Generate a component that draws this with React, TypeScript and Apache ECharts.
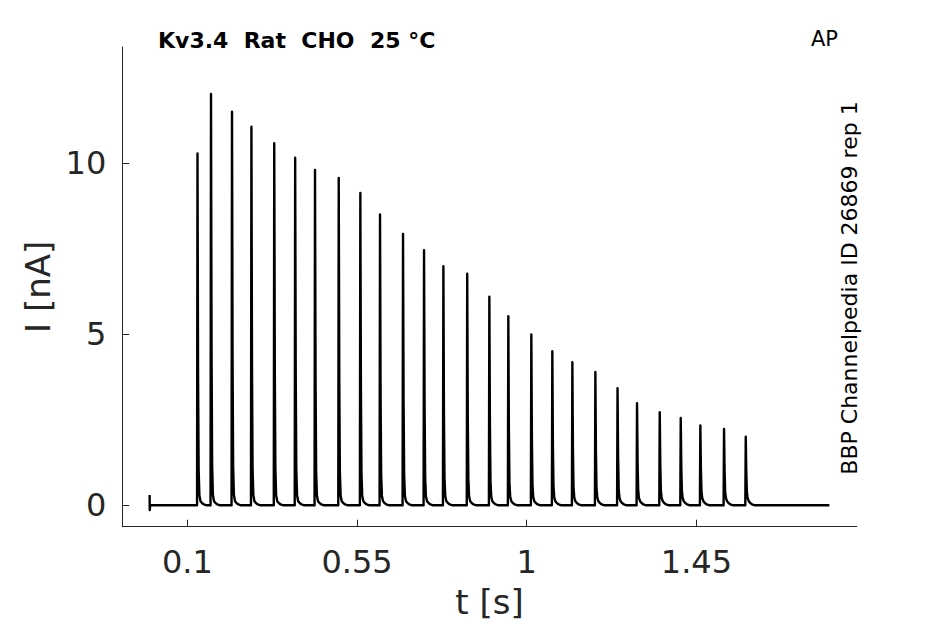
import React, { useEffect, useRef } from "react";
import * as echarts from "echarts";

// Spike (peak) times in seconds
const spikeTimes = [
  0.127, 0.1628, 0.2185, 0.27, 0.3305, 0.386, 0.4386, 0.5015, 0.5588, 0.611,
  0.672, 0.7277, 0.779, 0.8422, 0.9009, 0.9512, 1.0122, 1.0679, 1.121, 1.182,
  1.2408, 1.2925, 1.3527, 1.4084, 1.4604, 1.5232, 1.5808,
];
// Peak currents in nA
const spikePeaks = [
  10.27, 12.01, 11.49, 11.05, 10.57, 10.15, 9.79, 9.56, 9.12, 8.49, 7.92, 7.45,
  6.98, 6.76, 6.09, 5.52, 4.99, 4.5, 4.18, 3.89, 3.42, 2.98, 2.72, 2.55, 2.33,
  2.23, 2.0,
];
// Spike waveform: time offset (s), fraction of the peak, tail (nA)
const shapeOffsets = [-0.0012, 0, 0.0015, 0.003, 0.005, 0.008, 0.012, 0.017, 0.024];
const shapePeakFrac = [0, 1, 0.35, 0.08, 0.01, 0, 0, 0, 0];
const shapeTailNA = [0, 0, 0.22, 0.22, 0.19, 0.12, 0.065, 0.025, 0];
// Start artifact and end of the trace
const startArtifact = [
  [0, 0.3],
  [0.0004, -0.14],
  [0.0015, 0],
];
const traceEnd = 1.8025;

const xTicks = [0.1, 0.55, 1, 1.45];
const yTicks = [0, 5, 10];

const FONT = "DejaVu Sans";
const AXIS_COLOR = "#262626";

function buildTrace(): number[][] {
  const pts: number[][] = startArtifact.map((p) => [p[0], p[1]]);
  spikeTimes.forEach((t, i) => {
    const p = spikePeaks[i];
    shapeOffsets.forEach((off, k) => {
      pts.push([t + off, p * shapePeakFrac[k] + shapeTailNA[k]]);
    });
  });
  pts.push([traceEnd, 0]);
  return pts;
}

export default function App() {
  const ref = useRef<HTMLDivElement>(null);
  useEffect(() => {
    if (!ref.current) return;
    const chart = echarts.init(ref.current, undefined, { renderer: "svg" });
    chart.setOption({
      animation: false,
      backgroundColor: "#ffffff",
      grid: {
        left: 122.3,
        top: 47,
        right: 88.3,
        bottom: 97.3,
        containLabel: false,
        outerBoundsMode: "none",
      },
      xAxis: {
        type: "value",
        min: -0.0724,
        max: 1.875,
        name: "t [s]",
        nameLocation: "middle",
        nameGap: 58,
        nameTextStyle: { fontFamily: FONT, fontSize: 34, color: AXIS_COLOR },
        axisLine: { show: true, onZero: false, lineStyle: { color: AXIS_COLOR, width: 1 } },
        axisTick: {
          show: true,
          inside: true,
          length: 7,
          customValues: xTicks,
          lineStyle: { color: AXIS_COLOR, width: 1 },
        },
        axisLabel: {
          customValues: xTicks,
          fontFamily: FONT,
          fontSize: 32,
          color: AXIS_COLOR,
          margin: 19,
          showMinLabel: true,
          showMaxLabel: true,
        },
        splitLine: { show: false },
      },
      yAxis: {
        type: "value",
        min: -0.625,
        max: 13.38,
        name: "I [nA]",
        nameLocation: "middle",
        nameGap: 66,
        nameTextStyle: { fontFamily: FONT, fontSize: 34, color: AXIS_COLOR },
        axisLine: { show: true, onZero: false, lineStyle: { color: AXIS_COLOR, width: 1 } },
        axisTick: {
          show: true,
          inside: true,
          length: 7,
          customValues: yTicks,
          lineStyle: { color: AXIS_COLOR, width: 1 },
        },
        axisLabel: {
          customValues: yTicks,
          fontFamily: FONT,
          fontSize: 32,
          color: AXIS_COLOR,
          margin: 16,
        },
        splitLine: { show: false },
      },
      series: [
        {
          type: "line",
          data: buildTrace(),
          showSymbol: false,
          symbol: "none",
          lineStyle: { color: "#000000", width: 2.4, join: "round" },
          silent: true,
        },
      ],
      graphic: [
        {
          type: "text",
          x: 158,
          y: 40,
          style: {
            text: "Kv3.4  Rat  CHO  25 °C",
            fontFamily: FONT,
            fontWeight: "bold",
            fontSize: 22,
            fill: "#000000",
            verticalAlign: "middle",
            align: "left",
          },
        },
        {
          type: "text",
          x: 811,
          y: 39,
          style: {
            text: "AP",
            fontFamily: FONT,
            fontSize: 21,
            fill: "#000000",
            verticalAlign: "middle",
            align: "left",
          },
        },
        {
          type: "text",
          x: 849,
          y: 288,
          rotation: Math.PI / 2,
          style: {
            text: "BBP Channelpedia ID 26869 rep 1",
            fontFamily: FONT,
            fontSize: 22,
            fill: "#000000",
            verticalAlign: "middle",
            align: "center",
          },
        },
      ],
    });
    return () => chart.dispose();
  }, []);
  return (
    <div
      ref={ref}
      style={{ position: "fixed", left: 0, top: 0, width: 945, height: 624, background: "#fff" }}
    />
  );
}
